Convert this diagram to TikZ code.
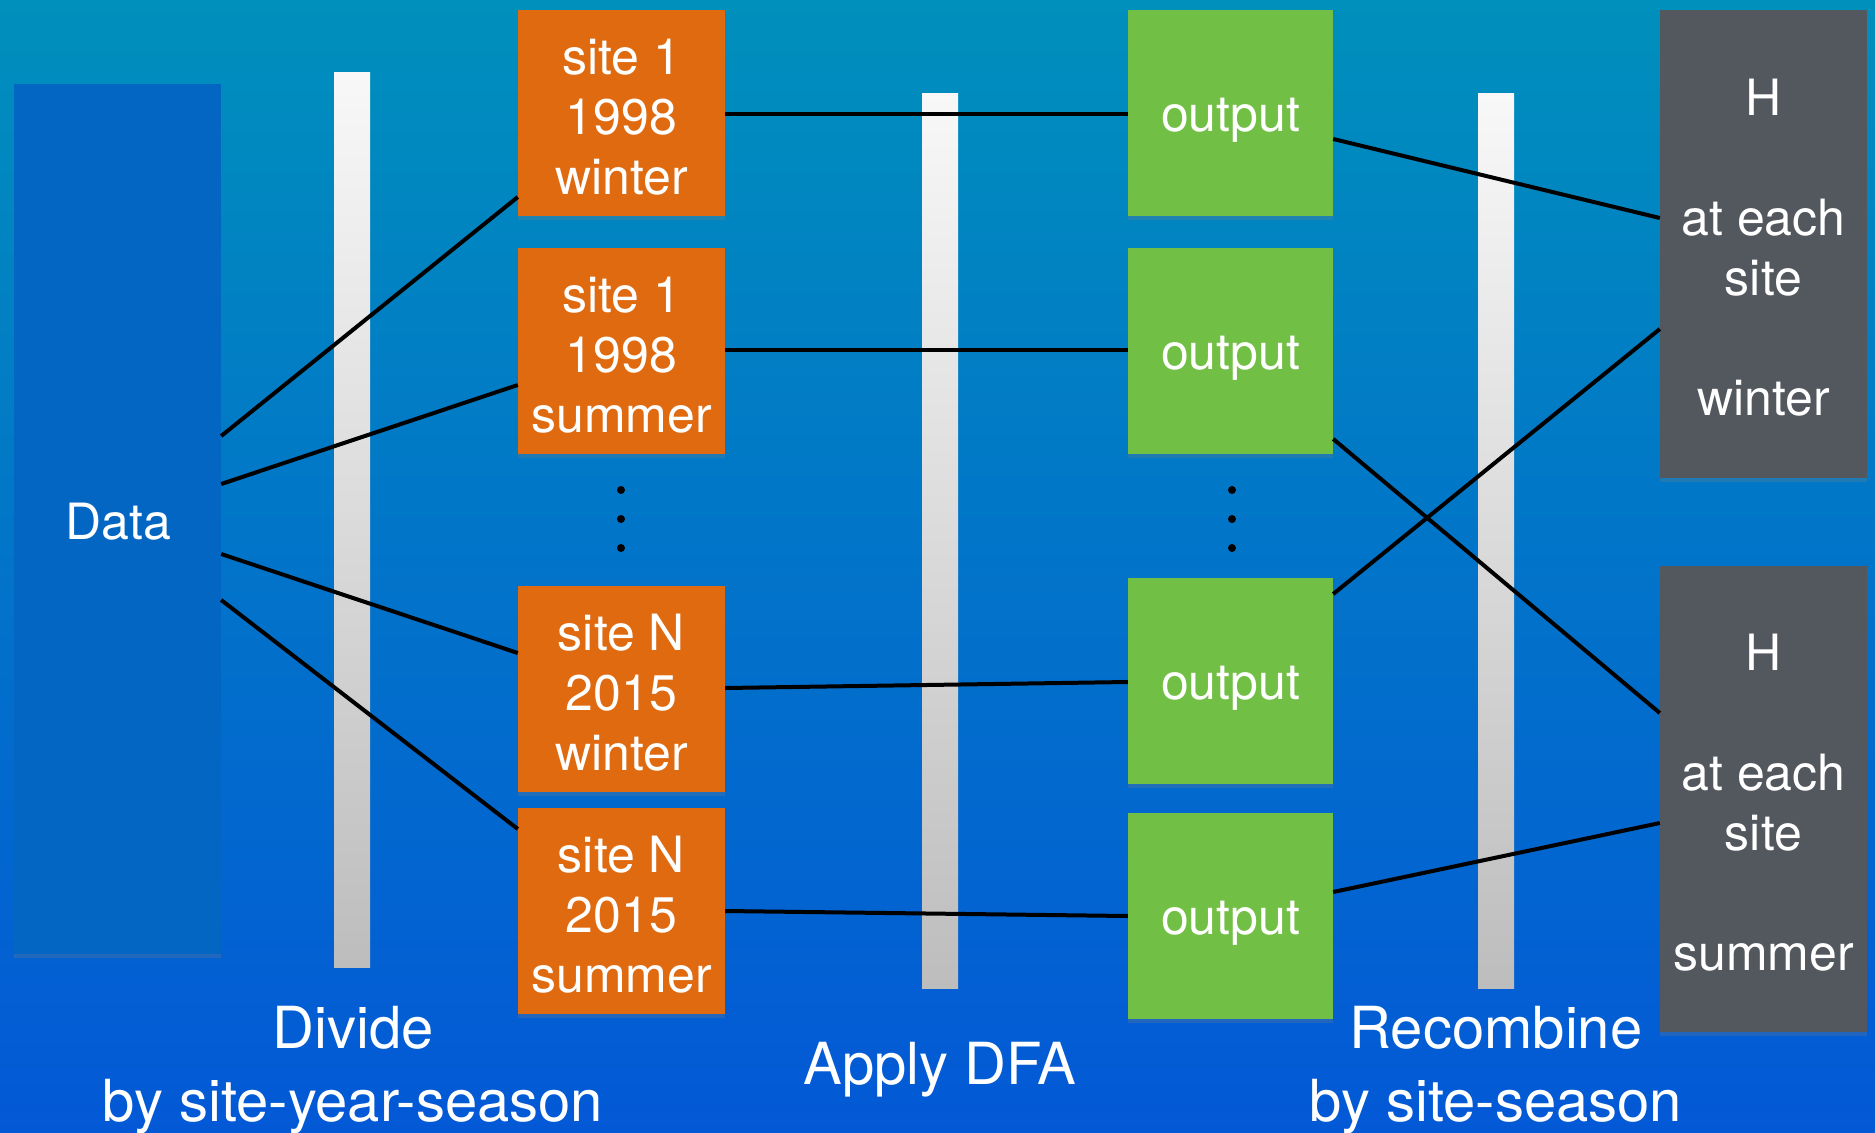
\documentclass[tikz,border=0pt]{standalone}
\usepackage{fontspec}
\setmainfont{TeX Gyre Heros}
\usetikzlibrary{shadows}
\definecolor{bgtop}{HTML}{0090BC}
\definecolor{bgbot}{HTML}{0358D6}
\definecolor{databox}{HTML}{0366C3}
\definecolor{orangebox}{HTML}{DF6A10}
\definecolor{greenbox}{HTML}{71BF44}
\definecolor{graybox}{HTML}{53575E}
\definecolor{bartop}{HTML}{F8F8F8}
\definecolor{barbot}{HTML}{BDBDBD}
\tikzset{
  boxbase/.style={inner sep=0pt, align=center, text=white,
    font=\fontsize{50}{60}\selectfont,
    drop shadow={shadow xshift=0pt, shadow yshift=-4pt, opacity=0.25}},
  databx/.style={boxbase, fill=databox, minimum width=207pt, minimum height=870pt},
  orangebx/.style={boxbase, fill=orangebox, minimum width=207pt, minimum height=206pt},
  greenbx/.style={boxbase, fill=greenbox, minimum width=205pt, minimum height=206pt},
  graybx/.style={boxbase, fill=graybox, minimum width=207pt, minimum height=467pt},
  barbx/.style={inner sep=0pt, minimum width=36pt, top color=bartop, bottom color=barbot, draw=none},
  conn/.style={line width=4pt, black},
  caption/.style={inner sep=0pt, align=center, text=white, font=\fontsize{58}{73}\selectfont},
  lbl/.style={inner sep=0pt, align=center, text=white, font=\fontsize{50}{60}\selectfont},
  dotmark/.style={circle, fill=black, inner sep=0pt, minimum size=8pt}
}
\begin{document}
\begin{tikzpicture}[x=1pt, y=-1pt]
\useasboundingbox (0,0) rectangle (1875,1133);
\shade[top color=bgtop, bottom color=bgbot] (0,0) rectangle (1875,1133);

% bars
\node[barbx, minimum height=895pt] (bar1) at (352,519.5) {};
\node[barbx, minimum height=895pt] (bar2) at (940,540.5) {};
\node[barbx, minimum height=895pt] (bar3) at (1496,540.5) {};

% data
\node[databx] (data) at (117.5,519) {};
\node[lbl] (datat) at (118,522) {Data};

% orange
\node[orangebx] (o1) at (621.5,113) {};
\node[orangebx] (o2) at (621.5,351) {};
\node[orangebx] (o3) at (621.5,689) {};
\node[orangebx] (o4) at (621.5,911) {};
\node[lbl] (o1t) at (621.5,117) {site 1\\1998\\winter};
\node[lbl] (o2t) at (621.5,355) {site 1\\1998\\summer};
\node[lbl] (o3t) at (621.5,693) {site N\\2015\\winter};
\node[lbl] (o4t) at (621.5,915) {site N\\2015\\summer};

% green
\node[greenbx] (g1) at (1230.5,113) {};
\node[greenbx] (g2) at (1230.5,351) {};
\node[greenbx] (g3) at (1230.5,681) {};
\node[greenbx] (g4) at (1230.5,916) {};
\node[lbl] (g1t) at (1230.5,120) {output};
\node[lbl] (g2t) at (1230.5,358) {output};
\node[lbl] (g3t) at (1230.5,688) {output};
\node[lbl] (g4t) at (1230.5,923) {output};

% gray
\node[graybx, minimum height=468pt] (h1) at (1763.5,244) {};
\node[graybx, minimum height=466pt] (h2) at (1763.5,799) {};
\node[lbl] (h1t) at (1763.5,248) {H\\ \\at each\\site\\ \\winter};
\node[lbl] (h2t) at (1763.5,803) {H\\ \\at each\\site\\ \\summer};

% dots
\node[dotmark] (d1) at (621,490) {};
\node[dotmark] (d2) at (621,519) {};
\node[dotmark] (d3) at (621,548) {};
\node[dotmark] (e1) at (1232,490) {};
\node[dotmark] (e2) at (1232,519) {};
\node[dotmark] (e3) at (1232,548) {};

% connectors
\draw[conn] (data.east |- 0,436) -- (o1.west |- 0,197);
\draw[conn] (data.east |- 0,484) -- (o2.west |- 0,385);
\draw[conn] (data.east |- 0,554) -- (o3.west |- 0,653);
\draw[conn] (data.east |- 0,600) -- (o4.west |- 0,829);

\draw[conn] (o1.east |- 0,114) -- (g1.west |- 0,114);
\draw[conn] (o2.east |- 0,350) -- (g2.west |- 0,350);
\draw[conn] (o3.east |- 0,688) -- (g3.west |- 0,682);
\draw[conn] (o4.east |- 0,911) -- (g4.west |- 0,916);

\draw[conn] (g1.east |- 0,139) -- (h1.west |- 0,218);
\draw[conn] (g2.east |- 0,439) -- (h2.west |- 0,713);
\draw[conn] (g3.east |- 0,594) -- (h1.west |- 0,329);
\draw[conn] (g4.east |- 0,892) -- (h2.west |- 0,823);

% captions
\node[caption] (c1) at (353,1070) {Divide\\by site-year-season};
\node[caption] (c2) at (940,1070) {Apply DFA};
\node[caption] (c3) at (1496,1070) {Recombine\\by site-season};
\end{tikzpicture}
\end{document}
